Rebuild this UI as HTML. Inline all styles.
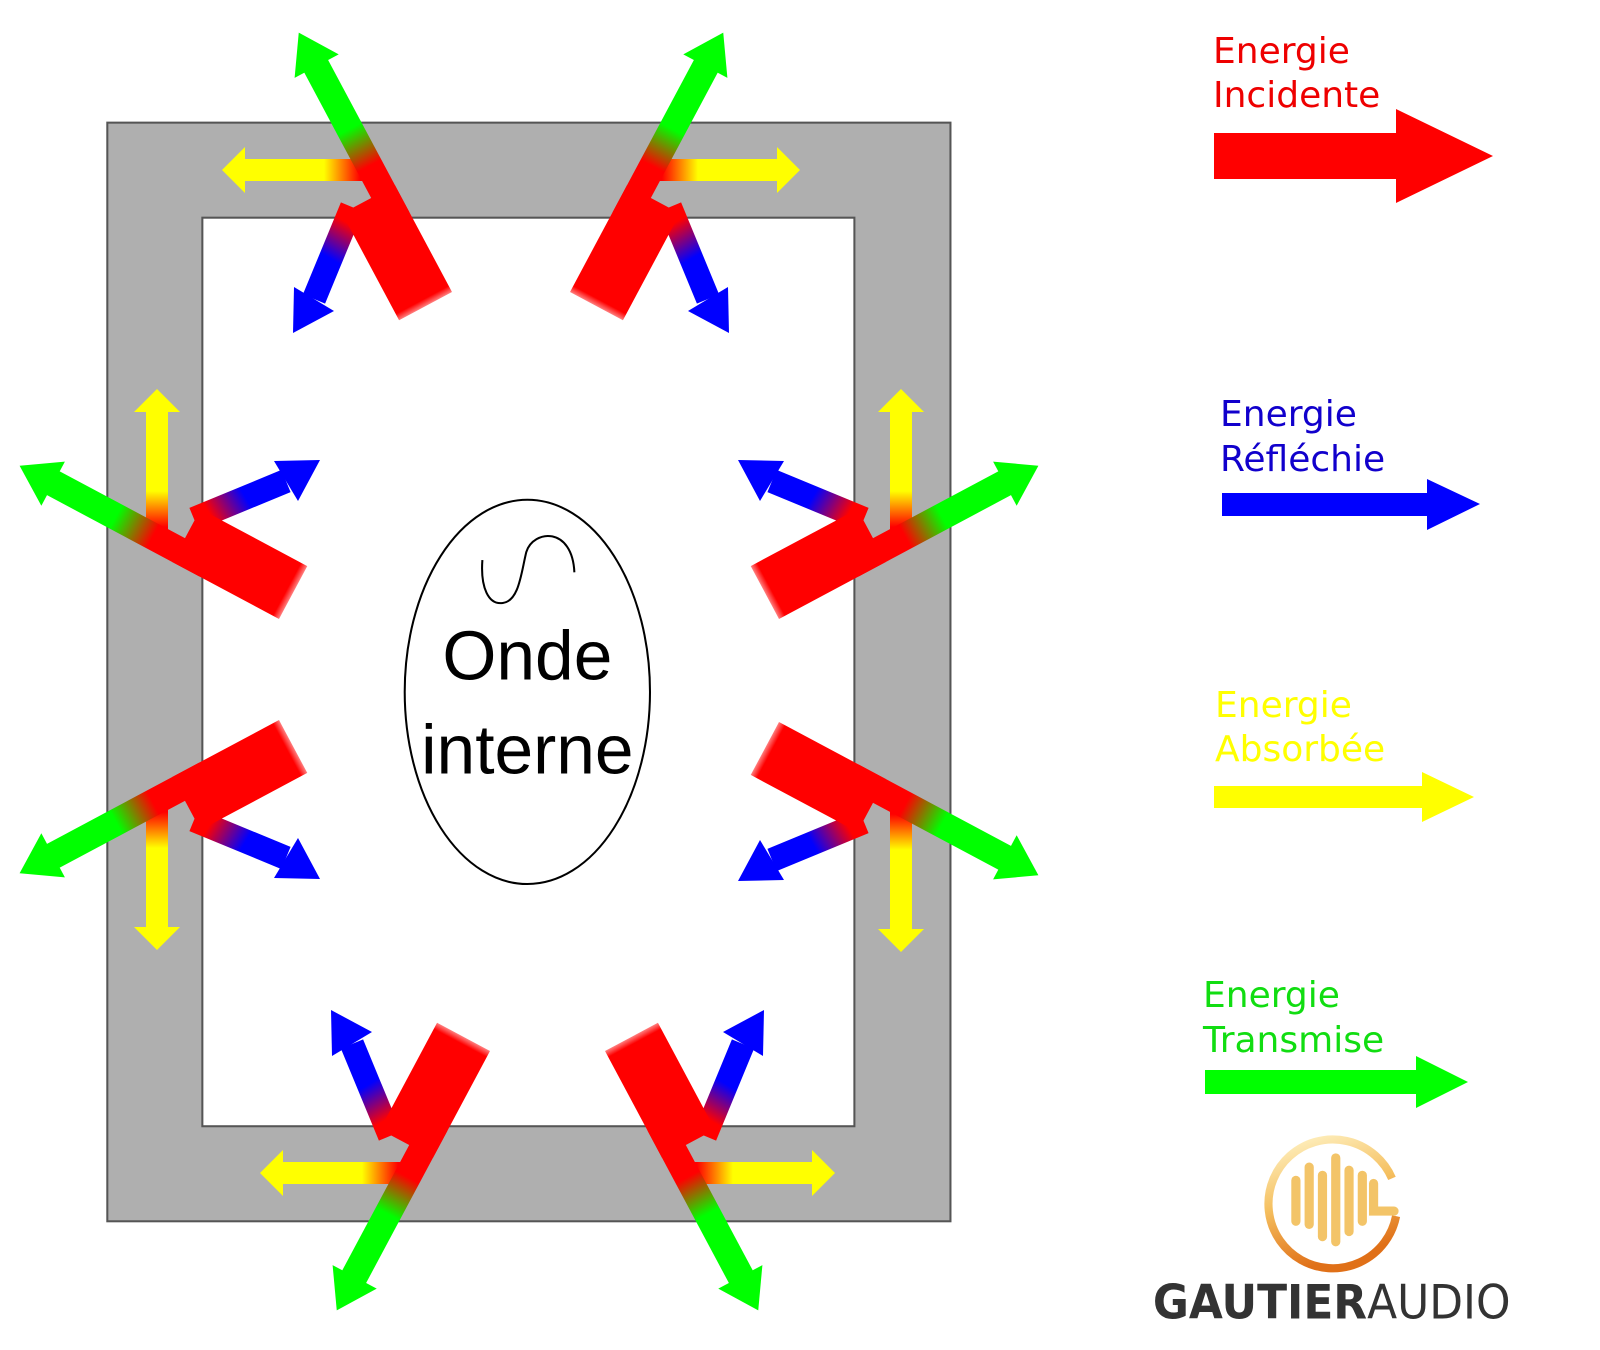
<!DOCTYPE html>
<html><head><meta charset="utf-8"><style>html,body{margin:0;padding:0;background:#fff}svg{display:block}</style></head>
<body>
<svg width="1600" height="1350" viewBox="0 0 1600 1350" xmlns="http://www.w3.org/2000/svg">
<defs>
<linearGradient id="gG" gradientUnits="userSpaceOnUse" x1="150" y1="0" x2="192" y2="0"><stop offset="0" stop-color="#f00"/><stop offset="1" stop-color="#0f0"/></linearGradient>
<linearGradient id="gR" gradientUnits="userSpaceOnUse" x1="0" y1="0" x2="7" y2="0"><stop offset="0" stop-color="#f00" stop-opacity="0.5"/><stop offset="1" stop-color="#f00"/></linearGradient>
<linearGradient id="gY" gradientUnits="userSpaceOnUse" x1="360" y1="0" x2="324" y2="0"><stop offset="0" stop-color="#f00"/><stop offset="1" stop-color="#ff0"/></linearGradient>
<linearGradient id="gB" gradientUnits="userSpaceOnUse" x1="346" y1="222" x2="326" y2="256"><stop offset="0" stop-color="#f00"/><stop offset="1" stop-color="#00f"/></linearGradient>
<linearGradient id="gold" x1="0" y1="0" x2="0.3" y2="1"><stop offset="0" stop-color="#fff4c8"/><stop offset="0.5" stop-color="#f5c060"/><stop offset="1" stop-color="#e07018"/></linearGradient>
<g id="grp">
  <line x1="352" y1="207" x2="314" y2="299" stroke="url(#gB)" stroke-width="24"/>
  <polygon points="334,311 294,287 293,333" fill="#00f"/>
  <rect x="243" y="159" width="125" height="22" fill="url(#gY)"/>
  <polygon points="245,147 245,193 222,170" fill="#ff0"/>
  <g transform="translate(452,292) rotate(-118.1)">
    <rect x="0" y="-60" width="121" height="60" fill="url(#gR)"/>
    <rect x="90" y="-27" width="178" height="27" fill="url(#gG)"/>
    <polygon points="263,-38 263,12 301,-13" fill="#0f0"/>
  </g>
</g>
</defs>
<g transform="scale(1.022)">
<rect x="105" y="120" width="825" height="1075" fill="#afafaf" stroke="#555" stroke-width="2"/>
<rect x="198" y="213" width="638" height="889" fill="#fff" stroke="#555" stroke-width="2"/>
</g>
<use href="#grp"/>
<use href="#grp" transform="matrix(-1,0,0,1,1022,0)"/>
<use href="#grp" transform="matrix(1,0,0,-1,38,1343)"/>
<use href="#grp" transform="matrix(-1,0,0,-1,1057,1343)"/>
<use href="#grp" transform="matrix(0,1,1,0,-13,167)"/>
<use href="#grp" transform="matrix(0,-1,1,0,-13,1172)"/>
<use href="#grp" transform="matrix(0,1,-1,0,1071,167)"/>
<use href="#grp" transform="matrix(0,-1,-1,0,1071,1174)"/>
<g transform="scale(1.022)">
<ellipse cx="516" cy="677" rx="120" ry="188" fill="#fff" stroke="#000" stroke-width="2"/>
<path d="M472,548 C470,575 478,592 492,590 C508,588 510,560 515,540 C522,518 560,515 562,560" fill="none" stroke="#000" stroke-width="2"/>
<g font-family="Liberation Sans, DejaVu Sans, sans-serif" text-anchor="middle" font-size="68" fill="#000">
<text x="516" y="665">Onde</text>
<text x="516" y="757">interne</text>
</g>
<path d="M1362,1153 A63,63 0 1,0 1366,1190" fill="none" stroke="url(#gold)" stroke-width="8"/>
<g stroke="#f3c468" stroke-width="9" stroke-linecap="round" fill="none">
<line x1="1268" y1="1155" x2="1268" y2="1195"/>
<line x1="1281" y1="1142" x2="1281" y2="1198"/>
<line x1="1294" y1="1150" x2="1294" y2="1210"/>
<line x1="1307" y1="1133" x2="1307" y2="1215"/>
<line x1="1320" y1="1145" x2="1320" y2="1205"/>
<line x1="1333" y1="1150" x2="1333" y2="1195"/>
<path d="M1344,1158 L1344,1185 L1364,1185"/>
</g>
<text x="1128" y="1290" font-family="DejaVu Sans, Liberation Sans, sans-serif" font-size="46" fill="#333" textLength="350" lengthAdjust="spacingAndGlyphs"><tspan font-weight="bold">GAUTIER</tspan><tspan>AUDIO</tspan></text>
</g>
<g font-family="DejaVu Sans, Liberation Sans, sans-serif" font-size="36">
<text x="1213" y="63" fill="#e00">Energie</text><text x="1213" y="107" fill="#e00">Incidente</text>
<text x="1220" y="426" fill="#10c">Energie</text><text x="1220" y="471" fill="#10c">Réfléchie</text>
<text x="1215" y="717" fill="#ff0">Energie</text><text x="1215" y="761" fill="#ff0">Absorbée</text>
<text x="1203" y="1007" fill="#1d1">Energie</text><text x="1203" y="1052" fill="#1d1">Transmise</text>
</g>
<polygon points="1214,133 1396,133 1396,109 1493,156 1396,203 1396,179 1214,179" fill="#f00"/>
<polygon points="1222,493 1427,493 1427,479 1480,504 1427,530 1427,516 1222,516" fill="#00f"/>
<polygon points="1214,786 1422,786 1422,772 1474,797 1422,822 1422,808 1214,808" fill="#ff0"/>
<polygon points="1205,1070 1416,1070 1416,1056 1468,1082 1416,1108 1416,1094 1205,1094" fill="#0f0"/>
</svg>
</body></html>
